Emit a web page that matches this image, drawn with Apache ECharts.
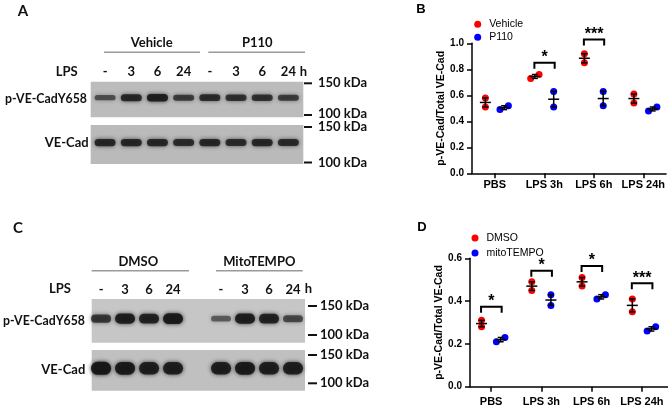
<!DOCTYPE html>
<html><head><meta charset="utf-8">
<script src="https://cdn.jsdelivr.net/npm/echarts@6/dist/echarts.min.js"></script>
<style>html,body{margin:0;padding:0;background:#fff}#c{width:668px;height:409px}</style>
</head><body><div id="c"></div>
<script>
// ---------- data ----------
const categories = ['PBS', 'LPS 3h', 'LPS 6h', 'LPS 24h'];
// Panel B
const vehicle = [[0.58, 0.51], [0.73, 0.76], [0.92, 0.85], [0.61, 0.54]];
const p110    = [[0.49, 0.52], [0.63, 0.51], [0.63, 0.52], [0.48, 0.51]];
const sigLevelB = [null, 0.85, 1.03, null];
const sigTextB  = ['', '*', '***', ''];
const yTicksB = [0, 0.2, 0.4, 0.6, 0.8, 1.0];
// Panel D
const dmso = [[0.31, 0.28], [0.49, 0.45], [0.51, 0.47], [0.41, 0.35]];
const mito = [[0.21, 0.23], [0.43, 0.38], [0.41, 0.43], [0.26, 0.28]];
const sigLevelD = [0.374, 0.542, 0.564, 0.483];
const sigTextD  = ['*', '*', '*', '***'];
const yTicksD = [0, 0.2, 0.4, 0.6];
// Blots (band intensity 0..1)
const laneLabelsA = ['-', '3', '6', '24', '-', '3', '6', '24'];
const laneIdxA = [0, 1, 2, 3, 4, 5, 6, 7];
const bandA_p  = [0.45, 0.8, 0.9, 0.6, 0.75, 0.7, 0.7, 0.6];
const bandA_ve = [0.8, 0.8, 0.8, 0.75, 0.8, 0.75, 0.8, 0.75];
const laneLabelsC = ['-', '3', '6', '24', '-', '3', '6', '24'];
const laneIdxC = [0, 1, 2, 3, 5, 6, 7, 8];
const bandC_p  = [0.65, 0.9, 0.85, 0.95, 0.35, 0.9, 0.85, 0.5];
const bandC_ve = [1.0, 0.95, 0.9, 0.9, 0.9, 0.95, 0.9, 0.9];

// ---------- helpers ----------
const ARIAL = '"Liberation Sans", Arial, sans-serif';
const CAL = 'Lato, sans-serif';
function mean(a) { return (a[0] + a[1]) / 2; }
function sem(a) { return Math.abs(a[0] - a[1]) / 2; }
function points(groups, offset, pxPerUnit) {
  const out = [];
  groups.forEach((vals, i) => {
    const s = vals.slice().sort((a, b) => a - b);
    const close = (s[1] - s[0]) * pxPerUnit < 6;
    s.forEach((v, k) => {
      const dx = close ? (k === 0 ? -0.085 : 0.085) : 0;
      out.push([i + offset + dx, v]);
    });
  });
  return out;
}
function errData(groups, offset) {
  return groups.map((vals, i) => [i + offset, mean(vals), sem(vals)]);
}
function errRender(params, api) {
  const x = api.value(0), m = api.value(1), s = api.value(2);
  const pm = api.coord([x, m]), pt = api.coord([x, m + s]), pb = api.coord([x, m - s]);
  const st = { stroke: '#000', lineWidth: 1.5 };
  return { type: 'group', children: [
    { type: 'line', shape: { x1: pm[0] - 5.5, y1: pm[1], x2: pm[0] + 5.5, y2: pm[1] }, style: st },
    { type: 'line', shape: { x1: pt[0], y1: pt[1], x2: pb[0], y2: pb[1] }, style: st },
    { type: 'line', shape: { x1: pt[0] - 3, y1: pt[1], x2: pt[0] + 3, y2: pt[1] }, style: st },
    { type: 'line', shape: { x1: pb[0] - 3, y1: pb[1], x2: pb[0] + 3, y2: pb[1] }, style: st }
  ]};
}
function sigRender(texts) {
  return function (params, api) {
    const i = api.value(0), lv = api.value(1);
    const p1 = api.coord([i - 0.2, lv]), p2 = api.coord([i + 0.21, lv]);
    return { type: 'group', children: [
      { type: 'polyline', shape: { points: [[p1[0], p1[1] + 6], [p1[0], p1[1]], [p2[0], p2[1]], [p2[0], p2[1] + 6]] },
        style: { stroke: '#000', lineWidth: 2, fill: null } },
      { type: 'text', x: (p1[0] + p2[0]) / 2, y: p1[1] + 3,
        style: { text: texts[params.dataIndex], font: 'bold 16px ' + ARIAL, fill: '#000', align: 'center', verticalAlign: 'bottom' } }
    ]};
  };
}
function sigData(levels) {
  const d = [];
  levels.forEach((lv, i) => { if (lv !== null) d.push([i, lv]); });
  return d;
}
function bandRender(base, k, w) {
  return function (params, api) {
    const lane = api.value(0), I = api.value(1);
    const c = api.coord([lane, 0.55]);
    const h = base + k * I;
    const col = 'rgba(22,22,22,' + (0.3 + 0.65 * I).toFixed(2) + ')';
    return { type: 'rect', shape: { x: c[0] - w / 2, y: c[1] - h / 2, width: w, height: h, r: h / 2 },
      style: { fill: col, shadowBlur: 4, shadowColor: col } };
  };
}
function bandData(idx, vals) { return idx.map((l, j) => [l, vals[j]]); }

function chartX(gi, min, max, margin) {
  return { type: 'value', gridIndex: gi, min: min, max: max,
    axisLine: { show: true, onZero: false, lineStyle: { color: '#000', width: 1.5 } },
    axisTick: { show: true, length: 5, customValues: [0, 1, 2, 3], lineStyle: { color: '#000', width: 1.5 } },
    axisLabel: { customValues: [0, 1, 2, 3], margin: margin, formatter: v => categories[Math.round(v)],
      color: '#000', fontFamily: ARIAL, fontWeight: 'bold', fontSize: 11 },
    splitLine: { show: false } };
}
function chartY(gi, ticks) {
  return { type: 'value', gridIndex: gi, min: ticks[0], max: ticks[ticks.length - 1], interval: 0.2,
    name: 'p-VE-Cad/Total VE-Cad', nameLocation: 'middle', nameGap: 25,
    nameTextStyle: { color: '#000', fontFamily: ARIAL, fontWeight: 'bold', fontSize: 10.5 },
    axisLine: { show: true, onZero: false, lineStyle: { color: '#000', width: 1.5 } },
    axisTick: { show: true, length: 5, lineStyle: { color: '#000', width: 1.5 } },
    axisLabel: { formatter: v => v.toFixed(1), margin: 8, color: '#000', fontFamily: ARIAL, fontWeight: 'bold', fontSize: 10 },
    splitLine: { show: false } };
}
function blotX(gi, min, max, labels, idx) {
  const ax = { type: 'value', gridIndex: gi, min: min, max: max,
    axisLine: { show: false }, axisTick: { show: false }, splitLine: { show: false } };
  if (labels) {
    ax.position = 'top';
    ax.axisLabel = { show: true, customValues: idx, margin: 3,
      formatter: v => labels[idx.indexOf(Math.round(v))],
      color: '#111', fontFamily: CAL, fontWeight: 'bold', fontSize: 13 };
  } else ax.axisLabel = { show: false };
  return ax;
}
function blotY(gi) {
  return { type: 'value', gridIndex: gi, min: 0, max: 1, show: false };
}
function T(text, x, y, opt) {
  return Object.assign({ type: 'text', x: x, y: y, silent: true,
    style: Object.assign({ text: text, font: 'bold 13px ' + CAL, fill: '#111', align: 'center', verticalAlign: 'middle' }, opt || {}) });
}
function L(x1, y1, x2, y2, color, w) {
  return { type: 'line', silent: true, shape: { x1, y1, x2, y2 }, style: { stroke: color, lineWidth: w } };
}
const ROW = { align: 'right', font: 'bold 12.3px ' + CAL };

const graphics = [
  // panel letters
  T('A', 23, 11, { font: 'bold 15px ' + CAL }),
  T('C', 18, 228, { font: 'bold 15px ' + CAL }),
  T('B', 421, 9.5, { font: 'bold 13px ' + ARIAL, fill: '#000' }),
  T('D', 422, 227, { font: 'bold 13px ' + ARIAL, fill: '#000' }),
  // panel A labels
  T('Vehicle', 151.7, 43.3), T('P110', 257.3, 43.3),
  L(104, 52.3, 200, 52.3, '#9a9a9a', 1.5), L(208.3, 52.3, 305, 52.3, '#9a9a9a', 1.5),
  T('LPS', 66.7, 71.7), T('h', 303.5, 71.7),
  T('p-VE-CadY658', 87, 99, ROW), T('VE-Cad', 66.7, 143.3),
  L(304, 83.3, 312, 83.3, '#111', 2), L(304, 115, 312, 115, '#111', 2),
  L(304, 127, 312, 127, '#111', 2), L(304, 162.5, 312, 162.5, '#111', 2),
  T('150 kDa', 318, 83.3, { align: 'left' }), T('100 kDa', 318, 113.5, { align: 'left' }),
  T('150 kDa', 318, 127, { align: 'left' }), T('100 kDa', 318, 162.5, { align: 'left' }),
  // panel C labels
  T('DMSO', 138.3, 262.3), T('MitoTEMPO', 259.3, 262.3),
  L(91.7, 270.7, 189, 270.7, '#9a9a9a', 1.5), L(216, 270.7, 302.7, 270.7, '#9a9a9a', 1.5),
  T('LPS', 60, 289), T('h', 308.3, 289),
  T('p-VE-CadY658', 85, 320.7, ROW), T('VE-Cad', 63.3, 370),
  L(308, 306, 317, 306, '#111', 2), L(308, 335, 317, 335, '#111', 2),
  L(308, 355, 317, 355, '#111', 2), L(308, 383.3, 317, 383.3, '#111', 2),
  T('150 kDa', 320, 306, { align: 'left' }), T('100 kDa', 320, 335, { align: 'left' }),
  T('150 kDa', 320, 355, { align: 'left' }), T('100 kDa', 320, 383.3, { align: 'left' })
];

const legendText = { fontFamily: ARIAL, fontSize: 10.5, lineHeight: 10, color: '#000', padding: [0, 0, 0, 3] };
const dot = (c) => ({ color: c, opacity: 1 });
const option = {
  animation: false,
  backgroundColor: '#fff',
  grid: [
    { left: 472, top: 43.3, width: 196, height: 130 },
    { left: 470, top: 258.3, width: 198, height: 128.4 },
    { left: 90.7, top: 81.7, width: 212.6, height: 35.6, show: true, backgroundColor: '#bcbcbc', borderWidth: 0 },
    { left: 90.7, top: 125, width: 212.6, height: 39, show: true, backgroundColor: '#bababa', borderWidth: 0 },
    { left: 91.7, top: 299, width: 213.3, height: 43.7, show: true, backgroundColor: '#c6c6c6', borderWidth: 0 },
    { left: 91.7, top: 350, width: 213.3, height: 40.7, show: true, backgroundColor: '#c0c0c0', borderWidth: 0 }
  ],
  xAxis: [
    chartX(0, -0.46, 3.46, 6),
    chartX(1, -0.42, 3.52, 10),
    blotX(2, -0.55, 7.57, laneLabelsA, laneIdxA),
    blotX(3, -0.55, 7.57, null, null),
    blotX(4, -0.39, 8.5, laneLabelsC, laneIdxC),
    blotX(5, -0.39, 8.5, null, null)
  ],
  yAxis: [chartY(0, yTicksB), chartY(1, yTicksD), blotY(2), blotY(3), blotY(4), blotY(5)],
  legend: [
    { data: ['Vehicle', 'P110'], orient: 'vertical', left: 474.2, top: 18.8, padding: 0,
      itemWidth: 7, itemHeight: 7, itemGap: 2, selectedMode: false, icon: 'circle', textStyle: legendText },
    { data: ['DMSO', 'mitoTEMPO'], orient: 'vertical', left: 471.5, top: 232.5, padding: 0,
      itemWidth: 7, itemHeight: 7, itemGap: 4, selectedMode: false, icon: 'circle', textStyle: legendText }
  ],
  graphic: graphics,
  series: [
    { name: 'Vehicle', type: 'scatter', xAxisIndex: 0, yAxisIndex: 0, symbolSize: 7, itemStyle: dot('#ff0000'), data: points(vehicle, -0.19, 130), z: 2 },
    { name: 'P110', type: 'scatter', xAxisIndex: 0, yAxisIndex: 0, symbolSize: 7, itemStyle: dot('#0000ff'), data: points(p110, 0.19, 130), z: 2 },
    { type: 'custom', xAxisIndex: 0, yAxisIndex: 0, renderItem: errRender, data: errData(vehicle, -0.19).concat(errData(p110, 0.19)), z: 3, silent: true },
    { type: 'custom', xAxisIndex: 0, yAxisIndex: 0, renderItem: sigRender(sigTextB.filter((t, i) => sigLevelB[i] !== null)), data: sigData(sigLevelB), z: 3, silent: true },
    { name: 'DMSO', type: 'scatter', xAxisIndex: 1, yAxisIndex: 1, symbolSize: 7, itemStyle: dot('#ff0000'), data: points(dmso, -0.19, 128.4 / 0.6), z: 2 },
    { name: 'mitoTEMPO', type: 'scatter', xAxisIndex: 1, yAxisIndex: 1, symbolSize: 7, itemStyle: dot('#0000ff'), data: points(mito, 0.19, 128.4 / 0.6), z: 2 },
    { type: 'custom', xAxisIndex: 1, yAxisIndex: 1, renderItem: errRender, data: errData(dmso, -0.19).concat(errData(mito, 0.19)), z: 3, silent: true },
    { type: 'custom', xAxisIndex: 1, yAxisIndex: 1, renderItem: sigRender(sigTextD), data: sigData(sigLevelD), z: 3, silent: true },
    { type: 'custom', xAxisIndex: 2, yAxisIndex: 2, renderItem: bandRender(3, 5, 21), data: bandData(laneIdxA, bandA_p), silent: true },
    { type: 'custom', xAxisIndex: 3, yAxisIndex: 3, renderItem: bandRender(4, 4, 21), data: bandData(laneIdxA, bandA_ve), silent: true },
    { type: 'custom', xAxisIndex: 4, yAxisIndex: 4, renderItem: bandRender(3, 8, 20), data: bandData(laneIdxC, bandC_p), silent: true },
    { type: 'custom', xAxisIndex: 5, yAxisIndex: 5, renderItem: bandRender(7, 6, 20), data: bandData(laneIdxC, bandC_ve), silent: true }
  ]
};
const chart = echarts.init(document.getElementById('c'), null, { renderer: 'canvas' });
chart.setOption(option);
</script>
</body></html>
